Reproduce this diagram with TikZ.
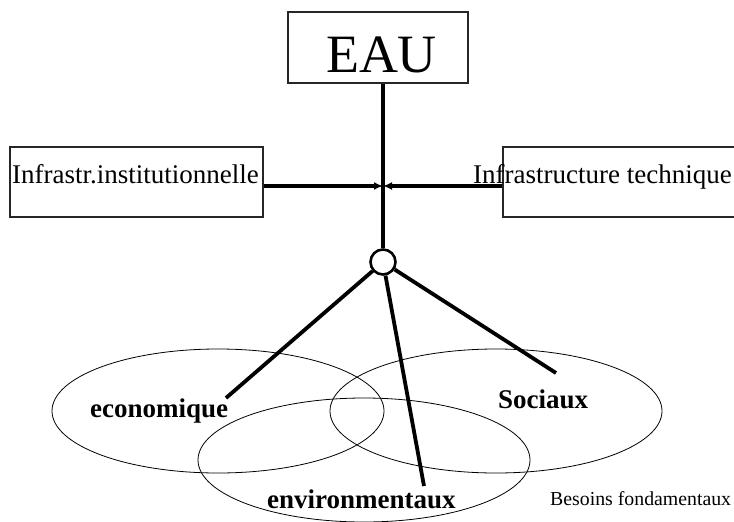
\documentclass[tikz,border=0pt]{standalone}
\usepackage{fontspec}
\setmainfont{Liberation Serif}
\usetikzlibrary{arrows.meta}
\tikzset{
  box/.style={draw=black!85, line width=1.3pt, inner sep=0pt},
  lbl/.style={anchor=base west, inner sep=0pt, font=\fontsize{27}{30}\selectfont},
  blbl/.style={anchor=base west, inner sep=0pt, font=\fontsize{27}{30}\selectfont\bfseries},
  thick line/.style={line width=3.8pt},
  ell/.style={draw, line width=0.8pt},
}
\begin{document}
\begin{tikzpicture}[x=1pt,y=-1pt]
\useasboundingbox (0,0) rectangle (734,522);
% ellipses
\draw[ell] (218,411) ellipse [x radius=166, y radius=62];
\draw[ell] (496,411) ellipse [x radius=166, y radius=62];
\draw[ell] (364,460) ellipse [x radius=166, y radius=62];
% boxes
\node[box, minimum width=180pt, minimum height=71pt] (eau) at (378,47.5) {};
\node[box, minimum width=253pt, minimum height=70pt] (left) at (136.5,182) {};
\node[box, minimum width=232pt, minimum height=70pt] (right) at (619,182) {};
% texts
\node[anchor=base, inner sep=0pt, font=\fontsize{54}{58}\selectfont] (teau) at (381.5,72) {EAU};
\node[lbl] (tleft) at (12,183) {Infrastr.institutionnelle};
\node[lbl] (tright) at (473,183) {Infrastructure technique};
\node[blbl] (teco) at (90,417) {economique};
\node[blbl] (tsoc) at (498,408) {Sociaux};
\node[blbl] (tenv) at (267,508) {environmentaux};
\node[anchor=base west, inner sep=0pt, font=\fontsize{19.8}{22}\selectfont] (tbes) at (550,505) {Besoins fondamentaux};
% hub
\node[draw, circle, line width=2.6pt, minimum size=25pt, inner sep=0pt] (hub) at (383,262) {};
\coordinate (mid) at (383,186);
\coordinate (eeco) at (226,398);
\coordinate (esoc) at (556,373);
\coordinate (eenv) at (424,486);
\draw[thick line] (eau.south -| hub) -- (hub);
\draw[thick line, -{Latex[length=9pt,width=8pt]}] (left.east |- mid) -- (mid);
\draw[thick line, -{Latex[length=9pt,width=8pt]}] (right.west |- mid) -- (mid);
\draw[thick line] (hub) -- (eeco);
\draw[thick line] (hub) -- (esoc);
\draw[thick line] (hub) -- (eenv);
\end{tikzpicture}
\end{document}
